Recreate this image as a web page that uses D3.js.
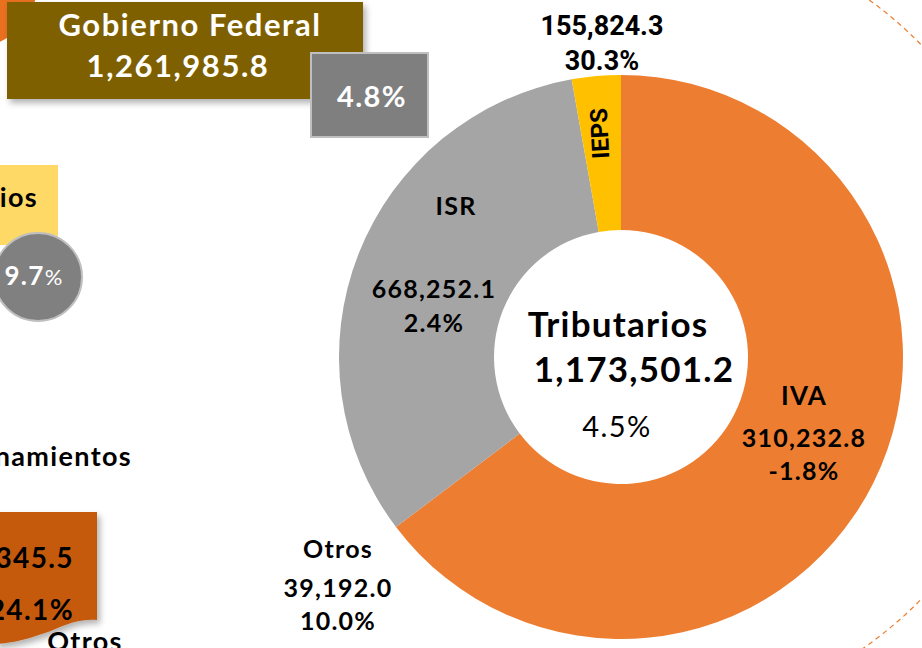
<!DOCTYPE html>
<html lang="es">
<head>
    <meta charset="UTF-8">
    <title>Tributarios</title>
    <style>
        body { margin: 0; background: #fff; overflow: hidden; }
        svg { display: block; }
        text { font-family: Lato, "DejaVu Sans", sans-serif; font-weight: bold; letter-spacing: 0.05em; }
    </style>
</head>
<body>
    <div id="chart"></div>
    <script src="https://cdn.jsdelivr.net/npm/d3@7"></script>
    <script>
        // Donut slices, in drawing order (clockwise from 12 o'clock)
        const names = ["IVA", "Otros", "ISR", "IEPS"];
        const shares = [64.7, 0, 32.5, 2.8];          // share of the ring as drawn, %
        const amounts = ["310,232.8", "39,192.0", "668,252.1", "155,824.3"];
        const growth = ["-1.8%", "10.0%", "2.4%", "30.3%"];
        const colors = ["#ED7D31", "#FFFFFF", "#A5A5A5", "#FFC000"];

        const totalName = "Tributarios";
        const totalAmount = "1,173,501.2";
        const totalGrowth = "4.5%";

        const width = 922;
        const height = 648;

        const svg = d3.select("#chart").append("svg")
            .attr("width", width)
            .attr("height", height);

        const defs = svg.append("defs");
        const shadow = defs.append("filter").attr("id", "shadow")
            .attr("x", "-10%").attr("y", "-10%").attr("width", "130%").attr("height", "140%");
        shadow.append("feDropShadow")
            .attr("dx", 3).attr("dy", 4).attr("stdDeviation", 3)
            .attr("flood-color", "#000").attr("flood-opacity", 0.3);

        // decorative background pieces (cut-off parts of the infographic)
        const ring = d3.path();
        ring.arc(637, 322, 397, -62 * Math.PI / 180, 62 * Math.PI / 180);
        svg.append("path")
            .attr("d", ring.toString())
            .attr("fill", "none").attr("stroke", "#ED7D31")
            .attr("stroke-width", 1.2).attr("stroke-dasharray", "5,4");

        svg.append("circle")
            .attr("cx", -25).attr("cy", -15).attr("r", 62)
            .attr("fill", "#E8701F");

        // Gobierno Federal box
        svg.append("rect")
            .attr("x", 7).attr("y", 2).attr("width", 356).attr("height", 97)
            .attr("fill", "#7F6000").attr("filter", "url(#shadow)");
        svg.append("text").attr("x", 190).attr("y", 36)
            .attr("text-anchor", "middle").attr("fill", "#fff")
            .attr("font-size", 31).text("Gobierno Federal");
        svg.append("text").attr("x", 178).attr("y", 77)
            .attr("text-anchor", "middle").attr("fill", "#fff")
            .attr("font-size", 31).text("1,261,985.8");

        svg.append("rect")
            .attr("x", 311).attr("y", 53).attr("width", 117).attr("height", 84)
            .attr("fill", "#7F7F7F").attr("stroke", "#BFBFBF").attr("stroke-width", 2);
        svg.append("text").attr("x", 372).attr("y", 107)
            .attr("text-anchor", "middle").attr("fill", "#fff")
            .attr("font-size", 29).text("4.8%");

        // No tributarios box (cut at left)
        svg.append("rect")
            .attr("x", -10).attr("y", 165).attr("width", 68).attr("height", 80)
            .attr("fill", "#FFD966");
        svg.append("text").attr("x", 38).attr("y", 207)
            .attr("text-anchor", "end").attr("fill", "#000")
            .attr("font-size", 27).text("ios");

        svg.append("circle")
            .attr("cx", 38).attr("cy", 277).attr("r", 44)
            .attr("fill", "#808080").attr("stroke", "#BFBFBF").attr("stroke-width", 2);
        const pct = svg.append("text").attr("x", 34).attr("y", 285)
            .attr("text-anchor", "middle").attr("fill", "#fff").attr("font-size", 26);
        pct.append("tspan").text("9.7");
        pct.append("tspan").style("font-weight", "normal").attr("font-size", 22).text("%");

        svg.append("text").attr("x", 132).attr("y", 466)
            .attr("text-anchor", "end").attr("fill", "#000")
            .attr("font-size", 27).text("namientos");

        // Financiamientos box with wavy bottom
        const doc = d3.path();
        doc.moveTo(-5, 512);
        doc.lineTo(97, 512);
        doc.lineTo(97, 620);
        doc.bezierCurveTo(75, 618, 60, 628, 45, 633);
        doc.bezierCurveTo(30, 638, 15, 643, -5, 644);
        doc.closePath();
        svg.append("path").attr("d", doc.toString())
            .attr("fill", "#C55A11").attr("filter", "url(#shadow)");
        svg.append("text").attr("x", 74).attr("y", 568)
            .attr("text-anchor", "end").attr("fill", "#000")
            .attr("font-size", 28).text("345.5");
        svg.append("text").attr("x", 74).attr("y", 620)
            .attr("text-anchor", "end").attr("fill", "#000")
            .attr("font-size", 28).text("24.1%");
        svg.append("text").attr("x", 85).attr("y", 651)
            .attr("text-anchor", "middle").attr("fill", "#000")
            .attr("font-size", 27).text("Otros");

        // Donut
        const cx = 621, cy = 357;
        const outerR = 282, innerR = 127;

        const slices = names.map((n, i) => ({ name: n, share: shares[i], color: colors[i] }));
        const pie = d3.pie().sort(null).value(d => d.share);
        const arc = d3.arc().innerRadius(innerR).outerRadius(outerR);

        const g = svg.append("g").attr("transform", `translate(${cx},${cy})`);
        g.selectAll("path.slice")
            .data(pie(slices))
            .join("path")
            .attr("class", "slice")
            .attr("d", arc)
            .attr("fill", d => d.data.color);

        // slice labels
        const label = (x, y, lines, size) => {
            lines.forEach(l => {
                svg.append("text")
                    .attr("x", x).attr("y", y + l.dy)
                    .attr("text-anchor", "middle")
                    .attr("fill", "#000")
                    .attr("font-size", l.size || size)
                    .style("font-family", l.family || null)
                    .style("letter-spacing", l.family ? "0" : null)
                    .text(l.text);
            });
        };

        label(804, 405, [
            { text: names[0], dy: 0, size: 26 },
            { text: amounts[0], dy: 42 },
            { text: growth[0], dy: 75 }
        ], 25);

        label(338, 558, [
            { text: names[1], dy: 0 },
            { text: amounts[1], dy: 39 },
            { text: growth[1], dy: 72 }
        ], 25);

        label(456, 215, [{ text: names[2], dy: 0 }], 25);
        label(434, 298, [
            { text: amounts[2], dy: 0 },
            { text: growth[2], dy: 34 }
        ], 25);

        label(602, 35, [
            { text: amounts[3], dy: 0, family: "Roboto" },
            { text: growth[3], dy: 35, family: "Roboto" }
        ], 27);

        svg.append("text")
            .attr("transform", "translate(608,133) rotate(-93)")
            .attr("text-anchor", "middle")
            .attr("fill", "#000")
            .attr("font-size", 24)
            .style("font-family", "Roboto")
            .style("letter-spacing", "0")
            .text(names[3]);

        // center
        svg.append("text").attr("x", 618).attr("y", 337)
            .attr("text-anchor", "middle").attr("fill", "#000")
            .style("letter-spacing", "0.035em")
            .attr("font-size", 35).text(totalName);
        svg.append("text").attr("x", 634).attr("y", 382)
            .attr("text-anchor", "middle").attr("fill", "#000")
            .style("letter-spacing", "0.035em")
            .attr("font-size", 35).text(totalAmount);
        svg.append("text").attr("x", 617).attr("y", 437)
            .attr("text-anchor", "middle").attr("fill", "#000")
            .style("font-weight", "normal")
            .attr("font-size", 29).text(totalGrowth);
    </script>
</body>
</html>
